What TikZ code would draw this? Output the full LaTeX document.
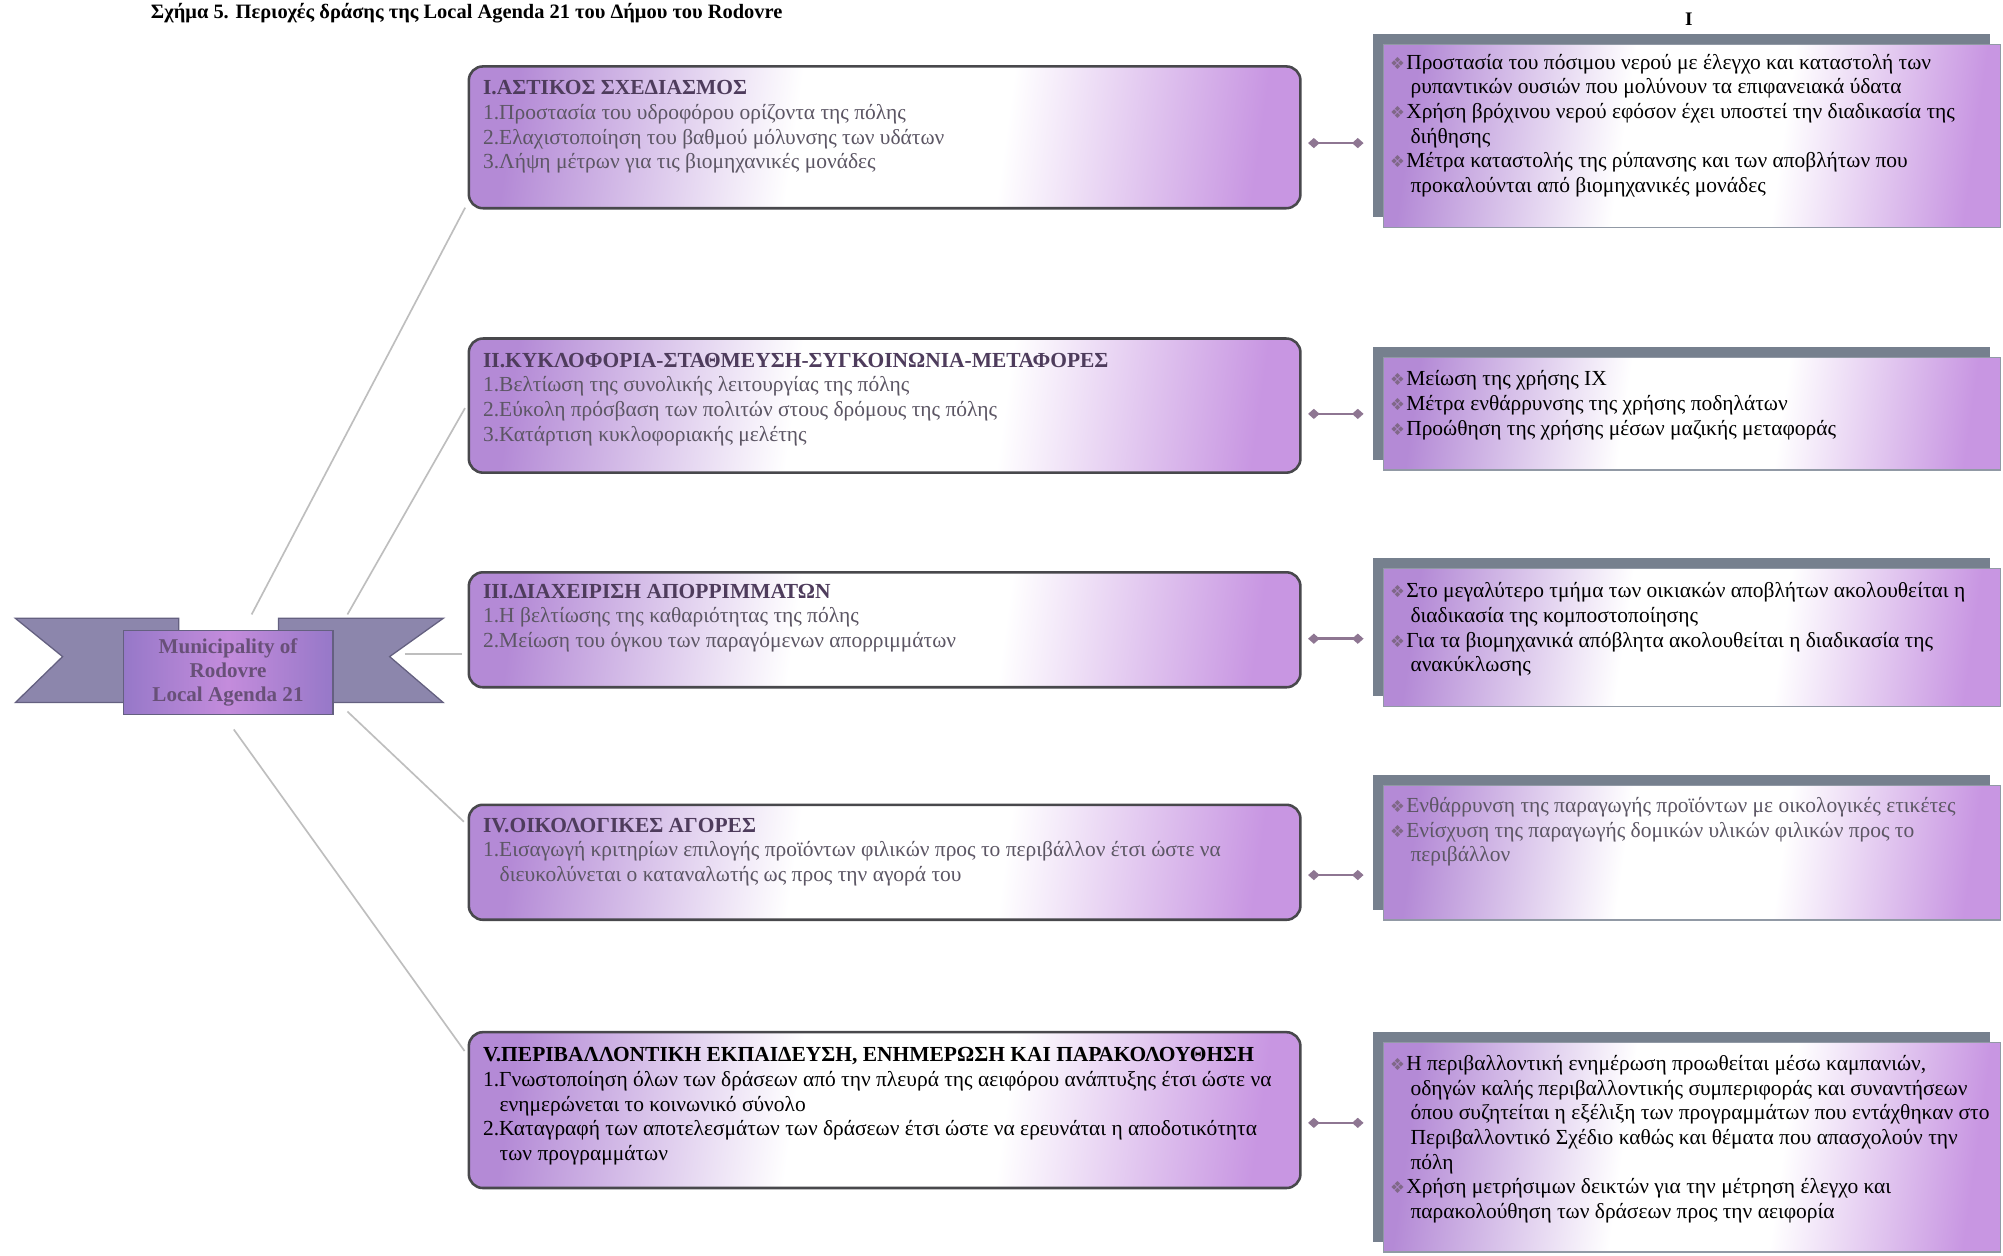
\documentclass[tikz,border=0pt]{standalone}
\usepackage{fontspec}
\setmainfont{Liberation Serif}
\newfontfamily\dejavu{DejaVu Sans}
\usetikzlibrary{arrows.meta,shadows}
\definecolor{lpA}{RGB}{180,138,214}
\definecolor{lpB}{RGB}{200,150,226}
\definecolor{bord}{RGB}{72,72,76}
\definecolor{slate}{RGB}{118,128,142}
\definecolor{ribT}{RGB}{140,134,172}
\definecolor{ribB}{RGB}{100,96,128}
\definecolor{banA}{RGB}{150,120,200}
\definecolor{banB}{RGB}{196,140,220}
\definecolor{bantxt}{RGB}{104,80,120}
\definecolor{hdr}{RGB}{78,60,92}
\definecolor{itm}{RGB}{92,86,100}
\definecolor{bulc}{RGB}{128,104,136}
\definecolor{connc}{RGB}{142,118,146}
\definecolor{linkc}{RGB}{190,190,190}
\pgfdeclarehorizontalshading{lshade}{100bp}{color(0bp)=(lpA); color(25bp)=(lpA); color(44bp)=(white); color(58bp)=(white); color(75bp)=(lpB); color(100bp)=(lpB)}
\newcommand\bulsym{{\dejavu\fontsize{13}{13}\selectfont\color{bulc}\char"2756}\hspace{1pt}}
\newcommand\hang{\hspace*{16pt}}
\tikzset{
  lbox/.style={draw=bord, line width=2pt, rounded corners=11pt, shading=lshade, shading angle=-8},
  rbox/.style={draw=slate!80, line width=1.2pt, shading=lshade, shading angle=-8,
    general shadow={fill=slate, shadow xshift=-8pt, shadow yshift=8pt}},
  txt/.style={anchor=north west, inner sep=0pt, align=left, font=\fontsize{16.8}{19.3}\selectfont},
  linkline/.style={draw=linkc, line width=1.3pt, shorten >=4pt},
  dconn/.style={draw=connc, line width=2pt, shorten <=5pt, shorten >=15pt,
    {Diamond[length=9pt,width=8pt,fill=connc]}-{Diamond[length=9pt,width=8pt,fill=connc]}},
  tail/.style={fill=ribT, draw=ribB, line width=1pt},
  banner/.style={draw=ribB, line width=1.2pt, left color=banA, right color=banA, middle color=banB,
    align=center, font=\bfseries\fontsize{16.5}{19}\selectfont, text=bantxt}
}
\begin{document}
\begin{tikzpicture}[x=1pt,y=-1pt]
\clip (0,0) rectangle (1568,983);
\fill[white] (0,0) rectangle (1568,983);

% title
\node[anchor=north west, inner sep=0pt, font=\bfseries\fontsize{16}{19}\selectfont] (title) at (118,2)
  {Σχήμα 5. Περιοχές δράσης της Local Agenda 21 του Δήμου του Rodovre};
\node[inner sep=0pt, font=\bfseries\fontsize{15}{15}\selectfont] (mark) at (1322,15) {I};

% ribbon
\fill[tail] (12,484) -- (140,484) -- (140,550) -- (12,550) -- (49,514) -- cycle;
\fill[tail] (218,484) -- (347,484) -- (305,514) -- (347,550) -- (218,550) -- cycle;
\node[banner, minimum width=164pt, minimum height=66pt] (mun) at (178.5,526.5)
  {Municipality of\\Rodovre\\Local Agenda 21};

% left boxes
\node[lbox, minimum width=651pt, minimum height=111pt] (L1) at (692.5,107.5) {};
\node[lbox, minimum width=651pt, minimum height=105pt] (L2) at (692.5,317.5) {};
\node[lbox, minimum width=651pt, minimum height=90pt]  (L3) at (692.5,493) {};
\node[lbox, minimum width=651pt, minimum height=90pt]  (L4) at (692.5,675) {};
\node[lbox, minimum width=651pt, minimum height=122pt] (L5) at (692.5,869) {};

\node[txt, text=itm] (L1t) at (378,63) {%
  {\bfseries\color{hdr}I.ΑΣΤΙΚΟΣ ΣΧΕΔΙΑΣΜΟΣ}\\
  1.Προστασία του υδροφόρου ορίζοντα της πόλης\\
  2.Ελαχιστοποίηση του βαθμού μόλυνσης των υδάτων\\
  3.Λήψη μέτρων για τις βιομηχανικές μονάδες};
\node[txt, text=itm] (L2t) at (378,276) {%
  {\bfseries\color{hdr}II.ΚΥΚΛΟΦΟΡΙΑ-ΣΤΑΘΜΕΥΣΗ-ΣΥΓΚΟΙΝΩΝΙΑ-ΜΕΤΑΦΟΡΕΣ}\\
  1.Βελτίωση της συνολικής λειτουργίας της πόλης\\
  2.Εύκολη πρόσβαση των πολιτών στους δρόμους της πόλης\\
  3.Κατάρτιση κυκλοφοριακής μελέτης};
\node[txt, text=itm] (L3t) at (378,457) {%
  {\bfseries\color{hdr}III.ΔΙΑΧΕΙΡΙΣΗ ΑΠΟΡΡΙΜΜΑΤΩΝ}\\
  1.Η βελτίωσης της καθαριότητας της πόλης\\
  2.Μείωση του όγκου των παραγόμενων απορριμμάτων};
\node[txt, text=itm] (L4t) at (378,640) {%
  {\bfseries\color{hdr}IV.ΟΙΚΟΛΟΓΙΚΕΣ ΑΓΟΡΕΣ}\\
  1.Εισαγωγή κριτηρίων επιλογής προϊόντων φιλικών προς το περιβάλλον έτσι ώστε να\\
  \hspace*{13pt}διευκολύνεται ο καταναλωτής ως προς την αγορά του};
\node[txt, text=black] (L5t) at (378,820) {%
  {\bfseries V.ΠΕΡΙΒΑΛΛΟΝΤΙΚΗ ΕΚΠΑΙΔΕΥΣΗ, ΕΝΗΜΕΡΩΣΗ ΚΑΙ ΠΑΡΑΚΟΛΟΥΘΗΣΗ}\\
  1.Γνωστοποίηση όλων των δράσεων από την πλευρά της αειφόρου ανάπτυξης έτσι ώστε να\\
  \hspace*{13pt}ενημερώνεται το κοινωνικό σύνολο\\
  2.Καταγραφή των αποτελεσμάτων των δράσεων έτσι ώστε να ερευνάται η αποδοτικότητα\\
  \hspace*{13pt}των προγραμμάτων};

% right boxes
\node[rbox, minimum width=483pt, minimum height=143pt] (R1) at (1324.5,106.5) {};
\node[rbox, minimum width=483pt, minimum height=88pt]  (R2) at (1324.5,324) {};
\node[rbox, minimum width=483pt, minimum height=108pt] (R3) at (1324.5,499) {};
\node[rbox, minimum width=483pt, minimum height=105pt] (R4) at (1324.5,667.5) {};
\node[rbox, minimum width=483pt, minimum height=164pt] (R5) at (1324.5,898) {};

\node[txt, text=black] (R1t) at (1088,42) {%
  \bulsym Προστασία του πόσιμου νερού με έλεγχο και καταστολή των\\
  \hang ρυπαντικών ουσιών που μολύνουν τα επιφανειακά ύδατα\\
  \bulsym Χρήση βρόχινου νερού εφόσον έχει υποστεί την διαδικασία της\\
  \hang διήθησης\\
  \bulsym Μέτρα καταστολής της ρύπανσης και των αποβλήτων που\\
  \hang προκαλούνται από βιομηχανικές μονάδες};
\node[txt, text=black] (R2t) at (1088,290) {%
  \bulsym Μείωση της χρήσης ΙΧ\\
  \bulsym Μέτρα ενθάρρυνσης της χρήσης ποδηλάτων\\
  \bulsym Προώθηση της χρήσης μέσων μαζικής μεταφοράς};
\node[txt, text=black] (R3t) at (1088,456) {%
  \bulsym Στο μεγαλύτερο τμήμα των οικιακών αποβλήτων ακολουθείται η\\
  \hang διαδικασία της κομποστοποίησης\\
  \bulsym Για τα βιομηχανικά απόβλητα ακολουθείται η διαδικασία της\\
  \hang ανακύκλωσης};
\node[txt, text=itm] (R4t) at (1088,624) {%
  \bulsym Ενθάρρυνση της παραγωγής προϊόντων με οικολογικές ετικέτες\\
  \bulsym Ενίσχυση της παραγωγής δομικών υλικών φιλικών προς το\\
  \hang περιβάλλον};
\node[txt, text=black] (R5t) at (1088,826) {%
  \bulsym Η περιβαλλοντική ενημέρωση προωθείται μέσω καμπανιών,\\
  \hang οδηγών καλής περιβαλλοντικής συμπεριφοράς και συναντήσεων\\
  \hang όπου συζητείται η εξέλιξη των προγραμμάτων που εντάχθηκαν στο\\
  \hang Περιβαλλοντικό Σχέδιο καθώς και θέματα που απασχολούν την\\
  \hang πόλη\\
  \bulsym Χρήση μετρήσιμων δεικτών για την μέτρηση έλεγχο και\\
  \hang παρακολούθηση των δράσεων προς την αειφορία};

% links from the ribbon to the left boxes
\coordinate (s1) at (197,481);
\coordinate (s2) at (272,481);
\coordinate (s3) at (317,512);
\coordinate (s4) at (272,557);
\coordinate (s5) at (183,571);
\draw[linkline] (s1) -- ([yshift=-51.5pt]L1.west);
\draw[linkline] (s2) -- ([yshift=1.5pt]L2.west);
\draw[linkline] (s3) -- ([yshift=-19pt]L3.west);
\draw[linkline] (s4) -- ([yshift=29pt]L4.west);
\draw[linkline] (s5) -- ([yshift=43pt]L5.west);

% diamond connectors
\coordinate (a1) at ([yshift=-4.5pt]L1.east);
\coordinate (a2) at ([yshift=-6.5pt]L2.east);
\coordinate (a3) at ([yshift=-7pt]L3.east);
\coordinate (a4) at ([yshift=-10pt]L4.east);
\coordinate (a5) at ([yshift=-10pt]L5.east);
\draw[dconn] (a1) -- (a1 -| R1.west);
\draw[dconn] (a2) -- (a2 -| R2.west);
\draw[dconn] (a3) -- (a3 -| R3.west);
\draw[dconn] (a4) -- (a4 -| R4.west);
\draw[dconn] (a5) -- (a5 -| R5.west);
\end{tikzpicture}
\end{document}
